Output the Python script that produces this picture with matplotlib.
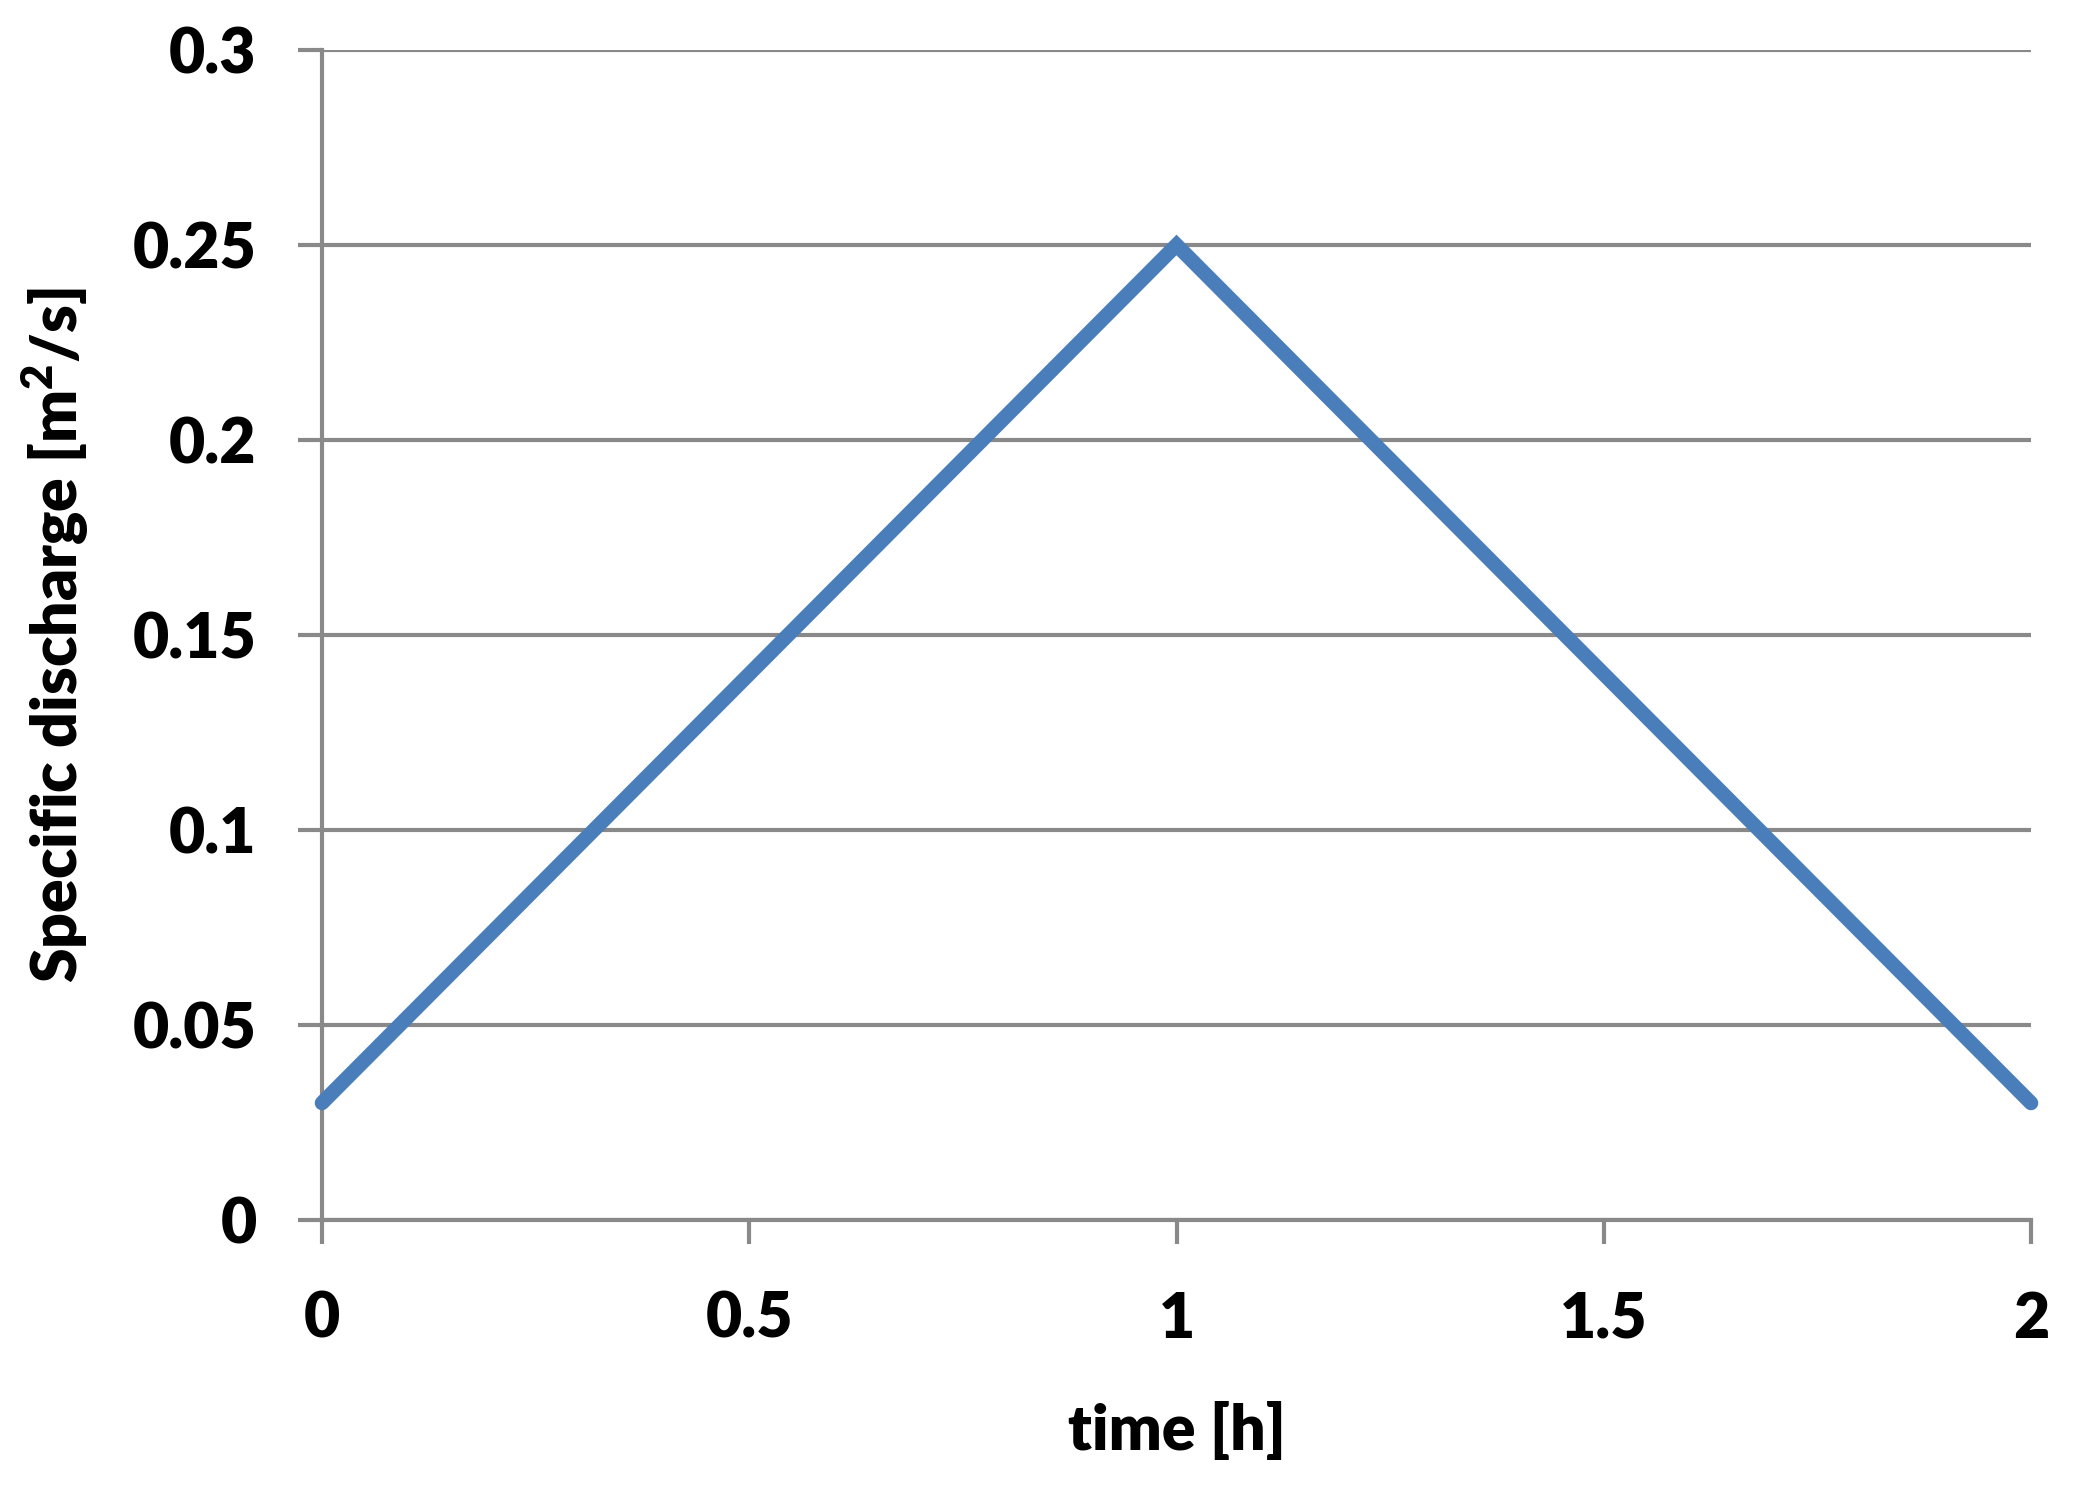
import matplotlib.pyplot as plt

# data
time_h = [0, 1, 2]
discharge = [0.03, 0.25, 0.03]
x_ticks = [0, 0.5, 1, 1.5, 2]
y_ticks = [0, 0.05, 0.1, 0.15, 0.2, 0.25, 0.3]
x_labels = ["0", "0.5", "1", "1.5", "2"]
y_labels = ["0", "0.05", "0.1", "0.15", "0.2", "0.25", "0.3"]

plt.rcParams['font.family'] = ['Lato', 'DejaVu Sans']
plt.rcParams['font.weight'] = 'heavy'

grid_col = '#898989'
fs = 45

fig = plt.figure(figsize=(20.8, 14.9), dpi=100)
ax = fig.add_axes([322 / 2080, 1 - 1220 / 1490, (2031 - 322) / 2080, (1220 - 50) / 1490])

ax.plot(time_h, discharge, color='#4A7EBB', lw=10.5, solid_capstyle='round',
        solid_joinstyle='miter', zorder=3, clip_on=False)

ax.set_xlim(0, 2)
ax.set_ylim(0, 0.3)
ax.set_xticks(x_ticks)
ax.set_xticklabels(x_labels)
ax.set_yticks(y_ticks)
ax.set_yticklabels(y_labels)

# horizontal gridlines
ax.yaxis.grid(True, color=grid_col, lw=3)
ax.set_axisbelow(True)

for s in ['top', 'right']:
    ax.spines[s].set_visible(False)
for s in ['left', 'bottom']:
    ax.spines[s].set_color(grid_col)
    ax.spines[s].set_linewidth(3)

ax.tick_params(axis='both', colors=grid_col, width=3, length=17,
               labelcolor='black', labelsize=fs)
ax.tick_params(axis='y', pad=30)
ax.tick_params(axis='x', pad=34)

ax.set_xlabel("time [h]", fontsize=fs, fontweight='heavy', labelpad=38)
ax.set_ylabel("Specific discharge [m$^\\mathregular{2}$/s]", fontsize=fs,
              fontweight='heavy', labelpad=30)

fig.savefig("out.png", dpi=100)
